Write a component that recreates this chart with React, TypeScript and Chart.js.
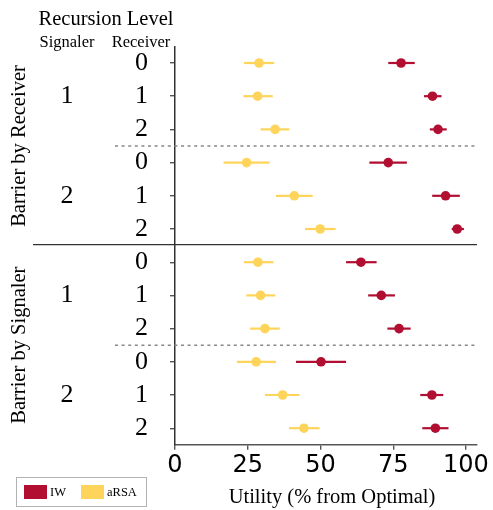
import React, { useEffect, useRef } from "react";
import { Chart, registerables } from "chart.js";

Chart.register(...registerables);

const RECEIVER_LEVELS = ["0", "1", "2", "0", "1", "2", "0", "1", "2", "0", "1", "2"];
const SIGNALER_LEVELS = ["1", "2", "1", "2"];
const SIGNALER_ROWS = [1, 4, 7, 10];
const GROUP_LABELS = ["Barrier by Receiver", "Barrier by Signaler"];
const GROUP_CENTERS = [2.5, 8.5];
const X_TICKS = [0, 25, 50, 75, 100];

const IW_MEAN = [77.7, 88.5, 90.4, 73.3, 93.0, 97.0, 63.9, 70.9, 77.0, 50.2, 88.3, 89.5];
const IW_LOW = [73.3, 85.6, 87.6, 66.8, 88.4, 95.1, 58.8, 66.4, 73.0, 41.6, 84.3, 85.0];
const IW_HIGH = [82.4, 91.6, 93.4, 79.7, 97.9, 99.3, 69.3, 75.6, 81.0, 58.8, 92.2, 94.0];

const ARSA_MEAN = [28.9, 28.4, 34.4, 24.6, 41.0, 49.9, 28.5, 29.4, 30.9, 27.9, 37.0, 44.3];
const ARSA_LOW = [23.7, 23.5, 29.4, 16.7, 34.7, 44.7, 23.7, 24.5, 25.8, 21.3, 30.9, 39.2];
const ARSA_HIGH = [34.1, 33.6, 39.3, 32.5, 47.3, 55.2, 33.8, 34.5, 36.0, 34.7, 42.8, 49.7];

const RED = "#B10E31";
const YELLOW = "#FED45B";
const SERIF = "'Liberation Serif', 'Times New Roman', serif";

export default function App() {
  const ref = useRef<HTMLCanvasElement | null>(null);

  useEffect(() => {
    const canvas = ref.current;
    if (!canvas) return;

    const errorBars = {
      id: "errorBars",
      beforeDatasetsDraw(chart: any) {
        const { ctx, scales } = chart;
        const xs = scales.x;
        const ys = scales.y;
        const series = [
          { lo: ARSA_LOW, hi: ARSA_HIGH, color: YELLOW },
          { lo: IW_LOW, hi: IW_HIGH, color: RED },
        ];
        ctx.save();
        ctx.lineWidth = 2.2;
        series.forEach((s) => {
          ctx.strokeStyle = s.color;
          s.lo.forEach((lo, i) => {
            const y = ys.getPixelForValue(i);
            ctx.beginPath();
            ctx.moveTo(xs.getPixelForValue(lo), y);
            ctx.lineTo(xs.getPixelForValue(s.hi[i]), y);
            ctx.stroke();
          });
        });
        ctx.restore();
      },
    };

    const decorations = {
      id: "decorations",
      afterDraw(chart: any) {
        const { ctx, scales, chartArea } = chart;
        const ys = scales.y;
        ctx.save();
        // separators
        ctx.strokeStyle = "#888";
        ctx.lineWidth = 1.4;
        ctx.setLineDash([3, 3.6]);
        [2.5, 8.5].forEach((v) => {
          const y = ys.getPixelForValue(v);
          ctx.beginPath();
          ctx.moveTo(115, y);
          ctx.lineTo(chartArea.right, y);
          ctx.stroke();
        });
        ctx.setLineDash([]);
        ctx.strokeStyle = "#333";
        ctx.lineWidth = 1.2;
        {
          const y = ys.getPixelForValue(5.47);
          ctx.beginPath();
          ctx.moveTo(33, y);
          ctx.lineTo(chartArea.right, y);
          ctx.stroke();
        }

        ctx.fillStyle = "#000";
        // header texts
        ctx.textAlign = "center";
        ctx.textBaseline = "alphabetic";
        ctx.font = `20.5px ${SERIF}`;
        ctx.fillText("Recursion Level", 106, 25);
        ctx.font = `16.5px ${SERIF}`;
        ctx.fillText("Signaler", 67, 47);
        ctx.fillText("Receiver", 141, 47);

        // signaler levels
        ctx.font = `26px ${SERIF}`;
        ctx.textBaseline = "middle";
        SIGNALER_LEVELS.forEach((lab, i) => {
          ctx.fillText(lab, 67, ys.getPixelForValue(SIGNALER_ROWS[i]));
        });

        // group labels (rotated)
        ctx.font = `20.5px ${SERIF}`;
        GROUP_LABELS.forEach((lab, i) => {
          ctx.save();
          ctx.translate(20, ys.getPixelForValue(GROUP_CENTERS[i]));
          ctx.rotate(-Math.PI / 2);
          ctx.fillText(lab, 0, 0);
          ctx.restore();
        });

        // x title
        ctx.textBaseline = "alphabetic";
        ctx.fillText("Utility (% from Optimal)", 332, 503);

        // legend
        ctx.strokeStyle = "#b3b3b3";
        ctx.lineWidth = 1;
        ctx.strokeRect(16.5, 477.5, 130, 29);
        ctx.fillStyle = RED;
        ctx.fillRect(24, 485, 23, 14);
        ctx.fillStyle = YELLOW;
        ctx.fillRect(81, 485, 23, 14);
        ctx.fillStyle = "#000";
        ctx.font = `12.5px ${SERIF}`;
        ctx.textAlign = "left";
        ctx.textBaseline = "middle";
        ctx.fillText("IW", 50, 492.5);
        ctx.fillText("aRSA", 107, 492.5);
        ctx.restore();
      },
    };

    const chart = new Chart(canvas, {
      type: "scatter",
      data: {
        datasets: [
          {
            label: "aRSA",
            data: ARSA_MEAN.map((v, i) => ({ x: v, y: i })),
            backgroundColor: YELLOW,
            borderColor: YELLOW,
            pointRadius: 4.8,
            borderWidth: 0,
          },
          {
            label: "IW",
            data: IW_MEAN.map((v, i) => ({ x: v, y: i })),
            backgroundColor: RED,
            borderColor: RED,
            pointRadius: 4.8,
            borderWidth: 0,
          },
        ],
      },
      options: {
        animation: false,
        responsive: false,
        devicePixelRatio: 1,
        layout: { padding: { top: 46.4, right: 16, bottom: 0, left: 0 } },
        plugins: {
          legend: { display: false },
          tooltip: { enabled: false },
        },
        scales: {
          x: {
            type: "linear",
            min: 0,
            max: 103.8,
            afterBuildTicks: (scale: any) => {
              scale.ticks = X_TICKS.map((v) => ({ value: v }));
            },
            afterFit: (scale: any) => {
              scale.height = 65.2;
            },
            grid: { drawOnChartArea: false, drawTicks: true, tickLength: 5, color: "#555", lineWidth: 1.4 },
            border: { display: true, color: "#555", width: 1.5 },
            ticks: {
              font: { family: "'DejaVu Sans', sans-serif", size: 24 },
              color: "#000",
              padding: 2,
              maxRotation: 0,
              autoSkip: false,
            },
          },
          y: {
            type: "linear",
            min: -0.5,
            max: 11.5,
            reverse: true,
            afterBuildTicks: (scale: any) => {
              scale.ticks = RECEIVER_LEVELS.map((_, i) => ({ value: i }));
            },
            afterFit: (scale: any) => {
              scale.width = 175;
            },
            grid: { drawOnChartArea: false, drawTicks: true, tickLength: 5, color: "#555", lineWidth: 1.4 },
            border: { display: true, color: "#333", width: 1.5 },
            ticks: {
              font: { family: SERIF, size: 26 },
              color: "#000",
              padding: 22,
              autoSkip: false,
              callback: (_v: any, i: number) => RECEIVER_LEVELS[i],
            },
          },
        },
      },
      plugins: [errorBars, decorations],
    });

    return () => chart.destroy();
  }, []);

  return (
    <div style={{ position: "absolute", left: 0, top: 0, width: 493, height: 510, background: "#fff" }}>
      <canvas ref={ref} width={493} height={510} style={{ width: 493, height: 510, display: "block" }} />
    </div>
  );
}
